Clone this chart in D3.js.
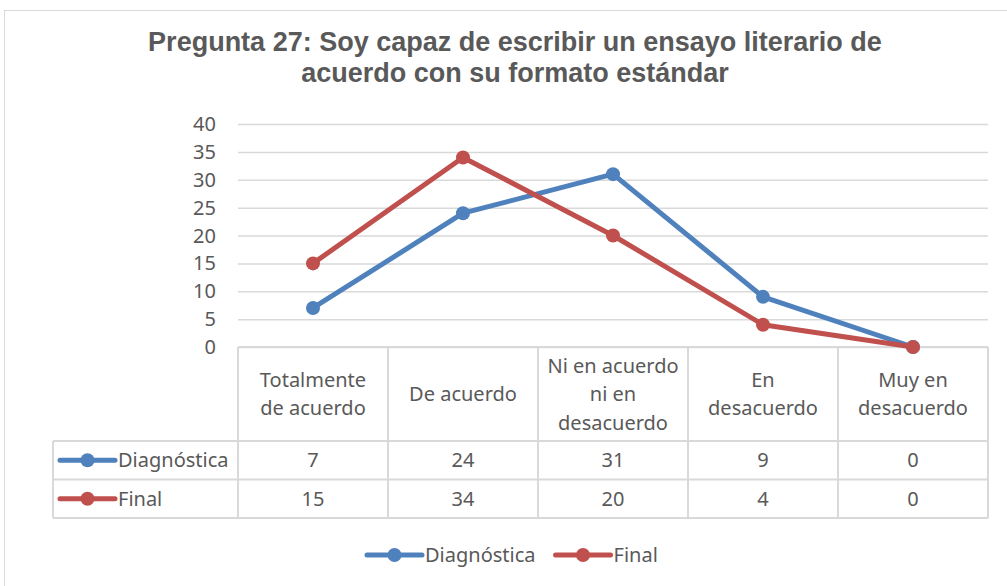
<!DOCTYPE html>
<html>
<head>
<meta charset="utf-8">
<script src="https://cdn.jsdelivr.net/npm/d3@7"></script>
<style>
  body { margin: 0; background: #fff; }
  text { fill: #595959; }
</style>
</head>
<body>
<div id="chart"></div>
<script>
const categories = [["Totalmente", "de acuerdo"], ["De acuerdo"], ["Ni en acuerdo", "ni en", "desacuerdo"], ["En", "desacuerdo"], ["Muy en", "desacuerdo"]];
const seriesNames = ["Diagnóstica", "Final"];
const diagnostica = [7, 24, 31, 9, 0];
const final = [15, 34, 20, 4, 0];
const yTicks = [0, 5, 10, 15, 20, 25, 30, 35, 40];
const colors = ["#4F81BD", "#C0504D"];
const series = [diagnostica, final];

const width = 1007, height = 586;
const font = "'Noto Sans', sans-serif";
const fs = "20px";

const svg = d3.select("#chart").append("svg")
    .attr("width", width)
    .attr("height", height);

// outer chart border
svg.append("rect")
    .attr("x", 4.5).attr("y", 10.5)
    .attr("width", 1010).attr("height", 590)
    .attr("fill", "none").attr("stroke", "#d9d9d9");

// title
svg.append("text")
    .attr("x", 515).attr("text-anchor", "middle")
    .style("font-family", "'Liberation Sans', Arial, sans-serif")
    .style("font-weight", "bold").style("font-size", "27px")
  .selectAll("tspan")
  .data(["Pregunta 27: Soy capaz de escribir un ensayo literario de", "acuerdo con su formato estándar"])
  .join("tspan")
    .attr("x", 515)
    .attr("y", (d, i) => 51 + i * 31)
    .text(d => d);

const x = d3.scaleBand().domain(d3.range(categories.length)).range([238, 988]);
const y = d3.scaleLinear().domain([0, 40]).range([347, 124]);

// gridlines
svg.append("g")
  .selectAll("line")
  .data(yTicks)
  .join("line")
    .attr("x1", 238).attr("x2", 988)
    .attr("y1", d => y(d) + 0.5).attr("y2", d => y(d) + 0.5)
    .attr("stroke", "#d9d9d9").attr("stroke-width", 1.5);

// y tick labels
svg.append("g")
  .selectAll("text")
  .data(yTicks)
  .join("text")
    .attr("x", 216).attr("y", d => y(d))
    .attr("dy", "0.35em").attr("text-anchor", "end")
    .style("font-family", font).style("font-size", fs)
    .text(d => d);

// data table
const tableTop = 347, headerBottom = 441, rowH = 38.5, tableLeft = 53;
const grid = svg.append("g").attr("stroke", "#d9d9d9").attr("stroke-width", 2).attr("fill", "none");
grid.append("line").attr("x1", 238).attr("x2", 988).attr("y1", tableTop).attr("y2", tableTop);
grid.append("line").attr("x1", tableLeft).attr("x2", 988).attr("y1", headerBottom).attr("y2", headerBottom);
grid.append("line").attr("x1", tableLeft).attr("x2", 988).attr("y1", headerBottom + rowH).attr("y2", headerBottom + rowH);
grid.append("line").attr("x1", tableLeft).attr("x2", 988).attr("y1", headerBottom + 2 * rowH).attr("y2", headerBottom + 2 * rowH);
grid.append("line").attr("x1", tableLeft).attr("x2", tableLeft).attr("y1", headerBottom).attr("y2", headerBottom + 2 * rowH);
grid.selectAll("line.v")
  .data(d3.range(categories.length + 1))
  .join("line")
    .attr("x1", i => 238 + i * x.bandwidth()).attr("x2", i => 238 + i * x.bandwidth())
    .attr("y1", tableTop).attr("y2", headerBottom + 2 * rowH);

// category headers
svg.append("g")
  .selectAll("text")
  .data(categories)
  .join("text")
    .attr("text-anchor", "middle")
    .style("font-family", font).style("font-size", fs)
  .each(function(d, i) {
    const cx = x(i) + x.bandwidth() / 2;
    const cy = (tableTop + headerBottom) / 2;
    d3.select(this).selectAll("tspan")
      .data(d)
      .join("tspan")
        .attr("x", cx)
        .attr("y", (t, j) => cy + (j - (d.length - 1) / 2) * 28.5)
        .attr("dy", "0.35em")
        .text(t => t);
  });

// table values and row legend keys
series.forEach((vals, s) => {
  const cy = headerBottom + rowH * s + rowH / 2;
  svg.append("g")
    .selectAll("text")
    .data(vals)
    .join("text")
      .attr("x", (d, i) => x(i) + x.bandwidth() / 2)
      .attr("y", cy).attr("dy", "0.35em")
      .attr("text-anchor", "middle")
      .style("font-family", font).style("font-size", fs)
      .text(d => d);

  const key = svg.append("g").attr("transform", `translate(60,${cy})`);
  key.append("line").attr("x1", 0).attr("x2", 55).attr("stroke", colors[s]).attr("stroke-width", 5).attr("stroke-linecap", "round");
  key.append("circle").attr("cx", 27.5).attr("r", 7).attr("fill", colors[s]);
  key.append("text").attr("x", 58).attr("dy", "0.35em")
    .style("font-family", font).style("font-size", fs)
    .text(seriesNames[s]);
});

// lines
const line = d3.line()
  .x((d, i) => x(i) + x.bandwidth() / 2)
  .y(d => y(d));

series.forEach((vals, s) => {
  svg.append("path")
    .datum(vals)
    .attr("d", line)
    .attr("fill", "none")
    .attr("stroke", colors[s])
    .attr("stroke-width", 5)
    .attr("stroke-linejoin", "round");
  svg.append("g")
    .selectAll("circle")
    .data(vals)
    .join("circle")
      .attr("cx", (d, i) => x(i) + x.bandwidth() / 2)
      .attr("cy", d => y(d))
      .attr("r", 7)
      .attr("fill", colors[s]);
});

// bottom legend
const legend = svg.append("g").attr("transform", "translate(367,555)");
let lx = 0;
seriesNames.forEach((name, s) => {
  const g = legend.append("g").attr("transform", `translate(${lx},0)`);
  g.append("line").attr("x1", 0).attr("x2", 55).attr("stroke", colors[s]).attr("stroke-width", 5).attr("stroke-linecap", "round");
  g.append("circle").attr("cx", 27.5).attr("r", 7).attr("fill", colors[s]);
  const t = g.append("text").attr("x", 58).attr("dy", "0.35em")
    .style("font-family", font).style("font-size", fs)
    .text(name);
  lx += 58 + t.node().getComputedTextLength() + 20;
});
</script>
</body>
</html>
